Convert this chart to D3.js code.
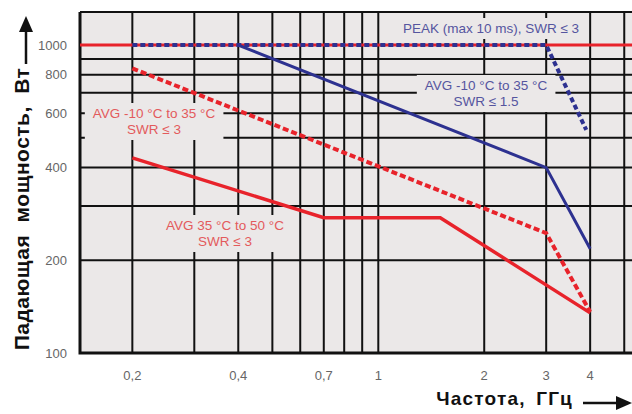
<!DOCTYPE html>
<html lang="ru">
<head>
<meta charset="utf-8">
<title>Падающая мощность</title>
<script src="https://d3js.org/d3.v7.min.js"></script>
<style>
  body { margin: 0; background: #fff; }
  text { font-family: "Liberation Sans", Arial, sans-serif; }
</style>
</head>
<body>
<script>
// ---- data ----
var gridFreq = [0.2, 0.3, 0.4, 0.5, 0.6, 0.7, 0.8, 0.9, 1, 2, 3, 4, 5];
var freqTicks = [0.2, 0.4, 0.7, 1, 2, 3, 4];
var freqLabels = ["0,2", "0,4", "0,7", "1", "2", "3", "4"];
var gridPower = [200, 300, 400, 500, 600, 700, 800, 900, 1000];
var powerTicks = [100, 200, 400, 600, 800, 1000];

var limitPower = 1000;
var peakFreq = [0.2, 3, 3.9];
var peakPower = [1000, 1000, 530];
var avgSwr15Freq = [0.4, 3, 4];
var avgSwr15Power = [1000, 400, 218];
var avgSwr3Freq = [0.2, 3, 4];
var avgSwr3Power = [840, 245, 136];
var hotSwr3Freq = [0.2, 0.7, 1.5, 4];
var hotSwr3Power = [430, 275, 275, 135];

var width = 632, height = 414;
var plotL = 80, plotR = 632, plotT = 12, plotB = 353;
var red = "#e8232b", blue = "#2d3190", bg = "#ebe8e8";

var svg = d3.select("body").append("svg")
    .attr("width", width)
    .attr("height", height);

var x = d3.scaleLog().domain([0.142, 5.26]).range([plotL, plotR]);
var y = d3.scaleLog().domain([100, 1280]).range([plotB, plotT]);

svg.append("rect")
    .attr("x", plotL).attr("y", plotT)
    .attr("width", plotR - plotL).attr("height", plotB - plotT)
    .attr("fill", bg);

// grid
var grid = svg.append("g").attr("stroke", "#111").attr("stroke-width", 2);
grid.selectAll(".h").data(gridPower.concat([y.domain()[1]])).enter().append("line")
    .attr("x1", plotL).attr("x2", plotR)
    .attr("y1", function(d) { return y(d); })
    .attr("y2", function(d) { return y(d); });
grid.selectAll(".v").data(gridFreq).enter().append("line")
    .attr("y1", plotT - 1).attr("y2", plotB)
    .attr("x1", function(d) { return x(d); })
    .attr("x2", function(d) { return x(d); });

// axis border
svg.append("path")
    .attr("d", "M" + plotL + "," + plotT + "V" + plotB + "H" + plotR)
    .attr("fill", "none").attr("stroke", "#111").attr("stroke-width", 3);

// annotations (text boxes hide the grid underneath)
var notes = [
  { lines: ["PEAK (max 10 ms), SWR ≤ 3"], cx: 491, cy: 28, color: "#55559f" },
  { lines: ["AVG -10 °C to 35 °C", "SWR ≤ 1.5"], cx: 486, cy: 85, color: "#55559f" },
  { lines: ["AVG -10 °C to 35 °C", "SWR ≤ 3"], cx: 154, cy: 113, color: "#e35a5c" },
  { lines: ["AVG 35 °C to 50 °C", "SWR ≤ 3"], cx: 225, cy: 225, color: "#e35a5c" }
];
var boxLayer = svg.append("g");
var lineLayer = svg.append("g");
var textLayer = svg.append("g");

notes.forEach(function(n) {
  var t = textLayer.append("text")
      .attr("text-anchor", "middle")
      .attr("font-size", 13.5)
      .attr("fill", n.color);
  n.lines.forEach(function(s, i) {
    t.append("tspan").attr("x", n.cx).attr("y", n.cy + 5 + i * 16).text(s);
  });
  var b = t.node().getBBox();
  boxLayer.append("rect")
      .attr("x", b.x - 8).attr("y", b.y - 3)
      .attr("width", b.width + 16).attr("height", b.height + 6)
      .attr("fill", bg);
});

// data lines
var line = d3.line()
    .x(function(d) { return x(d[0]); })
    .y(function(d) { return y(d[1]); });
function pairs(fs, ps) { return fs.map(function(f, i) { return [f, ps[i]]; }); }

lineLayer.append("path")
    .attr("d", line(x.domain().map(function(f) { return [f, limitPower]; })))
    .attr("fill", "none").attr("stroke", red).attr("stroke-width", 3);
lineLayer.append("path")
    .attr("d", line(pairs(hotSwr3Freq, hotSwr3Power)))
    .attr("fill", "none").attr("stroke", red).attr("stroke-width", 3.5);
lineLayer.append("path")
    .attr("d", line(pairs(avgSwr3Freq, avgSwr3Power)))
    .attr("fill", "none").attr("stroke", red).attr("stroke-width", 4)
    .attr("stroke-dasharray", "6,3");
lineLayer.append("path")
    .attr("d", line(pairs(avgSwr15Freq, avgSwr15Power)))
    .attr("fill", "none").attr("stroke", blue).attr("stroke-width", 3);
lineLayer.append("path")
    .attr("d", line(pairs(peakFreq, peakPower)))
    .attr("fill", "none").attr("stroke", blue).attr("stroke-width", 4)
    .attr("stroke-dasharray", "5,3");

// tick labels
svg.append("g").selectAll("text").data(freqTicks).enter().append("text")
    .attr("x", function(d) { return x(d); })
    .attr("y", 380)
    .attr("text-anchor", "middle")
    .attr("font-size", 13).attr("fill", "#666")
    .text(function(d, i) { return freqLabels[i]; });
svg.append("g").selectAll("text").data(powerTicks).enter().append("text")
    .attr("x", 67)
    .attr("y", function(d) { return y(d) + 4.5; })
    .attr("text-anchor", "end")
    .attr("font-size", 13).attr("fill", "#666")
    .text(function(d) { return d; });

// axis titles with arrows
svg.append("text")
    .attr("transform", "translate(29,209) rotate(-90)")
    .attr("text-anchor", "middle")
    .attr("font-size", 21).attr("font-weight", "bold").attr("fill", "#111")
    .attr("letter-spacing", 0.5).attr("word-spacing", 6)
    .text("Падающая мощность, Вт");
svg.append("line")
    .attr("x1", 26).attr("x2", 26).attr("y1", 64).attr("y2", 28)
    .attr("stroke", "#111").attr("stroke-width", 2.5);
svg.append("path")
    .attr("d", "M26,16L33,32L19,32Z").attr("fill", "#111");

svg.append("text")
    .attr("x", 573).attr("y", 405)
    .attr("text-anchor", "end")
    .attr("font-size", 19).attr("font-weight", "bold").attr("fill", "#111")
    .attr("letter-spacing", 1.2).attr("word-spacing", 4)
    .text("Частота, ГГц");
svg.append("line")
    .attr("x1", 583).attr("x2", 620).attr("y1", 403).attr("y2", 403)
    .attr("stroke", "#111").attr("stroke-width", 2.5);
svg.append("path")
    .attr("d", "M632,403L616,396L616,410Z").attr("fill", "#111");
</script>
</body>
</html>
